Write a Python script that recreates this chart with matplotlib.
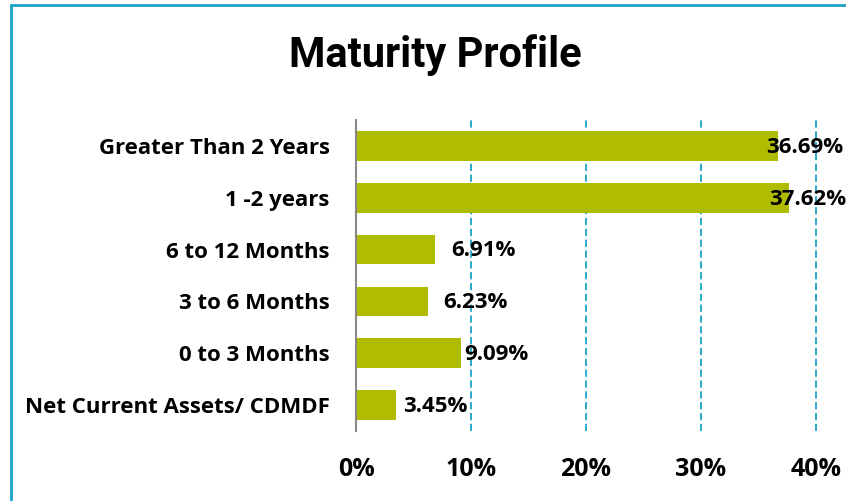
import matplotlib.pyplot as plt
from matplotlib.patches import Rectangle

categories = ["Greater Than 2 Years", "1 -2 years", "6 to 12 Months",
              "3 to 6 Months", "0 to 3 Months", "Net Current Assets/ CDMDF"]
values = [36.69, 37.62, 6.91, 6.23, 9.09, 3.45]
xticks = [0, 10, 20, 30, 40]
xtick_labels = ["0%", "10%", "20%", "30%", "40%"]

# label shifts (pixels) relative to bar end, as placed in the original
label_nudge = [-12, -20, 16, 16, 4, 7]

bar_color = "#AFBC00"
teal = "#1BA3C6"
fam = "Open Sans"

fig = plt.figure(figsize=(8.46, 5.01), dpi=100)
ax = fig.add_axes([356 / 846, 1 - 431 / 501, 460 / 846, 311 / 501])

y = list(range(len(categories)))
ax.barh(y, values, height=0.57, color=bar_color, zorder=3)
ax.set_ylim(len(categories) - 0.5, -0.5)
ax.set_xlim(0, 40)

ax.set_yticks(y)
ax.set_yticklabels(categories, fontsize=16, fontweight="bold", family=fam)
ax.set_xticks(xticks)
ax.set_xticklabels(xtick_labels, fontsize=18, fontweight="bold", family=fam)
ax.tick_params(axis="both", length=0)
ax.tick_params(axis="y", pad=19)
ax.tick_params(axis="x", pad=19)

for t in xticks[1:]:
    ax.axvline(t, color=teal, linestyle=(0, (4, 2)), linewidth=1.3,
               zorder=1, clip_on=False)

for s in ["top", "right", "bottom"]:
    ax.spines[s].set_visible(False)
ax.spines["left"].set_color("#888888")
ax.spines["left"].set_linewidth(1.5)
ax.spines["left"].set_zorder(4)

for i, v in enumerate(values):
    ax.annotate(f"{v:.2f}%", (v, i), xytext=(label_nudge[i] * 0.72, -1),
                textcoords="offset points", va="center", ha="left",
                fontsize=16, fontweight="bold", family=fam,
                annotation_clip=False, zorder=5)

fig.text(435 / 846, 1 - 55 / 501, "Maturity Profile", ha="center", va="center",
         fontsize=30, fontweight="bold", family="Roboto")

# outer frame
fig.patches.append(Rectangle((11 / 846, -0.1), 1.1, 1 - 5 / 501 + 0.1,
                             transform=fig.transFigure, fill=False,
                             edgecolor=teal, linewidth=2))

fig.savefig("out.png", dpi=100)
